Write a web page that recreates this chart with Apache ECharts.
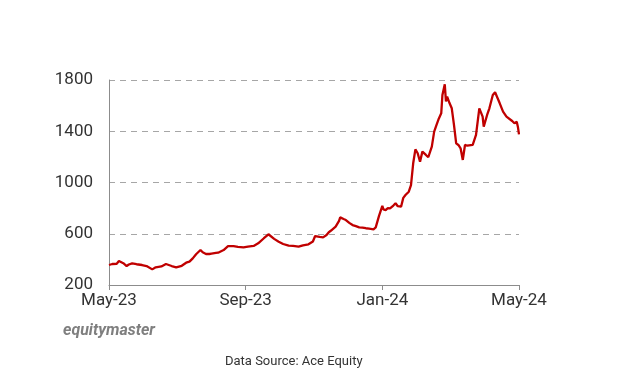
<!DOCTYPE html>
<html>
<head>
<meta charset="utf-8">
<script src="https://cdn.jsdelivr.net/npm/echarts@6/dist/echarts.min.js"></script>
<style>
html,body{margin:0;padding:0;background:#fff;}
#c{width:644px;height:374px;}
</style>
</head>
<body>
<div id="c"></div>
<script>
var dates = [
'2023-05-01','2023-05-04','2023-05-08','2023-05-10','2023-05-14','2023-05-17','2023-05-19','2023-05-22','2023-05-26','2023-05-31',
'2023-06-04','2023-06-09','2023-06-12','2023-06-17','2023-06-21','2023-06-26','2023-06-30',
'2023-07-05','2023-07-09','2023-07-12','2023-07-15','2023-07-18','2023-07-22','2023-07-24','2023-07-27','2023-07-30',
'2023-08-01','2023-08-05','2023-08-07','2023-08-12','2023-08-16','2023-08-21','2023-08-25','2023-08-30',
'2023-09-03','2023-09-08','2023-09-12','2023-09-17','2023-09-21','2023-09-26','2023-09-30',
'2023-10-04','2023-10-09','2023-10-13','2023-10-18','2023-10-22','2023-10-27','2023-10-31',
'2023-11-02','2023-11-06','2023-11-09','2023-11-12','2023-11-14','2023-11-16','2023-11-20','2023-11-23','2023-11-24','2023-11-27','2023-11-29',
'2023-12-02','2023-12-05','2023-12-08','2023-12-11','2023-12-14','2023-12-17','2023-12-20','2023-12-21','2023-12-24','2023-12-26','2023-12-29',
'2024-01-01','2024-01-02','2024-01-04','2024-01-06','2024-01-08','2024-01-11','2024-01-13','2024-01-15','2024-01-18','2024-01-20','2024-01-22','2024-01-25','2024-01-27','2024-01-29','2024-01-31',
'2024-02-02','2024-02-04','2024-02-06','2024-02-09','2024-02-11','2024-02-14','2024-02-16','2024-02-18','2024-02-20','2024-02-22','2024-02-23','2024-02-25','2024-02-26','2024-02-27','2024-02-29',
'2024-03-02','2024-03-04','2024-03-06','2024-03-08','2024-03-10','2024-03-12','2024-03-14','2024-03-16','2024-03-21','2024-03-24','2024-03-27','2024-03-30','2024-03-31',
'2024-04-03','2024-04-05','2024-04-08','2024-04-10','2024-04-14','2024-04-17','2024-04-20','2024-04-25','2024-04-27','2024-04-29','2024-04-30','2024-05-01'
];
var prices = [
356,364,366,387,370,348,360,369,362,356,
348,322,338,345,364,348,338,
350,374,382,408,440,473,455,442,442,
445,450,452,473,504,504,498,494,
500,505,525,565,596,560,538,
520,507,505,499,510,518,540,
582,575,572,590,612,625,655,700,728,715,707,
685,668,660,650,648,643,640,629,635,650,740,
817,790,785,800,798,820,838,815,811,880,902,928,980,1150,1259,
1228,1162,1241,1215,1197,1280,1397,1449,1500,1540,1683,1766,1632,1671,1620,
1579,1449,1306,1293,1267,1176,1293,1287,1293,1371,1579,1514,1436,
1527,1579,1683,1704,1620,1553,1514,1480,1462,1475,1436,1376
];
var tickLabels = ['May-23','Sep-23','Jan-24','May-24'];
var yMin = 200, yMax = 1800, yStep = 400;

// x position = months elapsed since 2023-05-01 (fractional)
function monthPos(s){
  var p = s.split('-'), y = +p[0], m = +p[1], d = +p[2];
  var dim = new Date(Date.UTC(y, m, 0)).getUTCDate();
  return (y - 2023) * 12 + (m - 5) + (d - 1) / dim;
}
var seriesData = dates.map(function(d,i){ return [monthPos(d), prices[i]]; });

var chart = echarts.init(document.getElementById('c'));
chart.setOption({
  animation:false,
  backgroundColor:'#fff',
  textStyle:{fontFamily:'Roboto'},
  grid:{left:109,right:125,top:80,bottom:89,containLabel:false},
  xAxis:{
    type:'value',
    min:0, max:12, interval:4,
    axisLine:{show:true,lineStyle:{color:'#8c8c8c',width:1}},
    axisTick:{show:true,length:5,lineStyle:{color:'#8c8c8c'}},
    axisLabel:{
      margin:7,
      fontSize:17,
      color:'#333',
      fontFamily:'Roboto',
      showMinLabel:true, showMaxLabel:true,
      formatter:function(v){
        var i = Math.round(v/4);
        return tickLabels[i] || '';
      }
    },
    splitLine:{show:false}
  },
  yAxis:{
    type:'value',
    min:yMin,max:yMax,interval:yStep,
    axisLine:{show:true,lineStyle:{color:'#8c8c8c',width:1}},
    axisTick:{show:false},
    axisLabel:{fontSize:17,color:'#333',margin:16,fontFamily:'Roboto',formatter:function(v){return String(v);}},
    splitLine:{show:true,lineStyle:{color:'#a6a6a6',type:[6,5],width:1}}
  },
  series:[{
    type:'line',
    data:seriesData,
    showSymbol:false,
    symbol:'none',
    lineStyle:{color:'#c00000',width:2.3},
    z:3
  }],
  graphic:[
    {type:'text',left:63,top:323,style:{text:'equitymaster',fontSize:16,fontWeight:'bold',fontStyle:'italic',fill:'#7f7f7f',fontFamily:'Roboto'}},
    {type:'text',left:225,top:355,style:{text:'Data Source: Ace Equity',fontSize:13,fill:'#333',fontFamily:'Roboto'}}
  ]
});
</script>
</body>
</html>
